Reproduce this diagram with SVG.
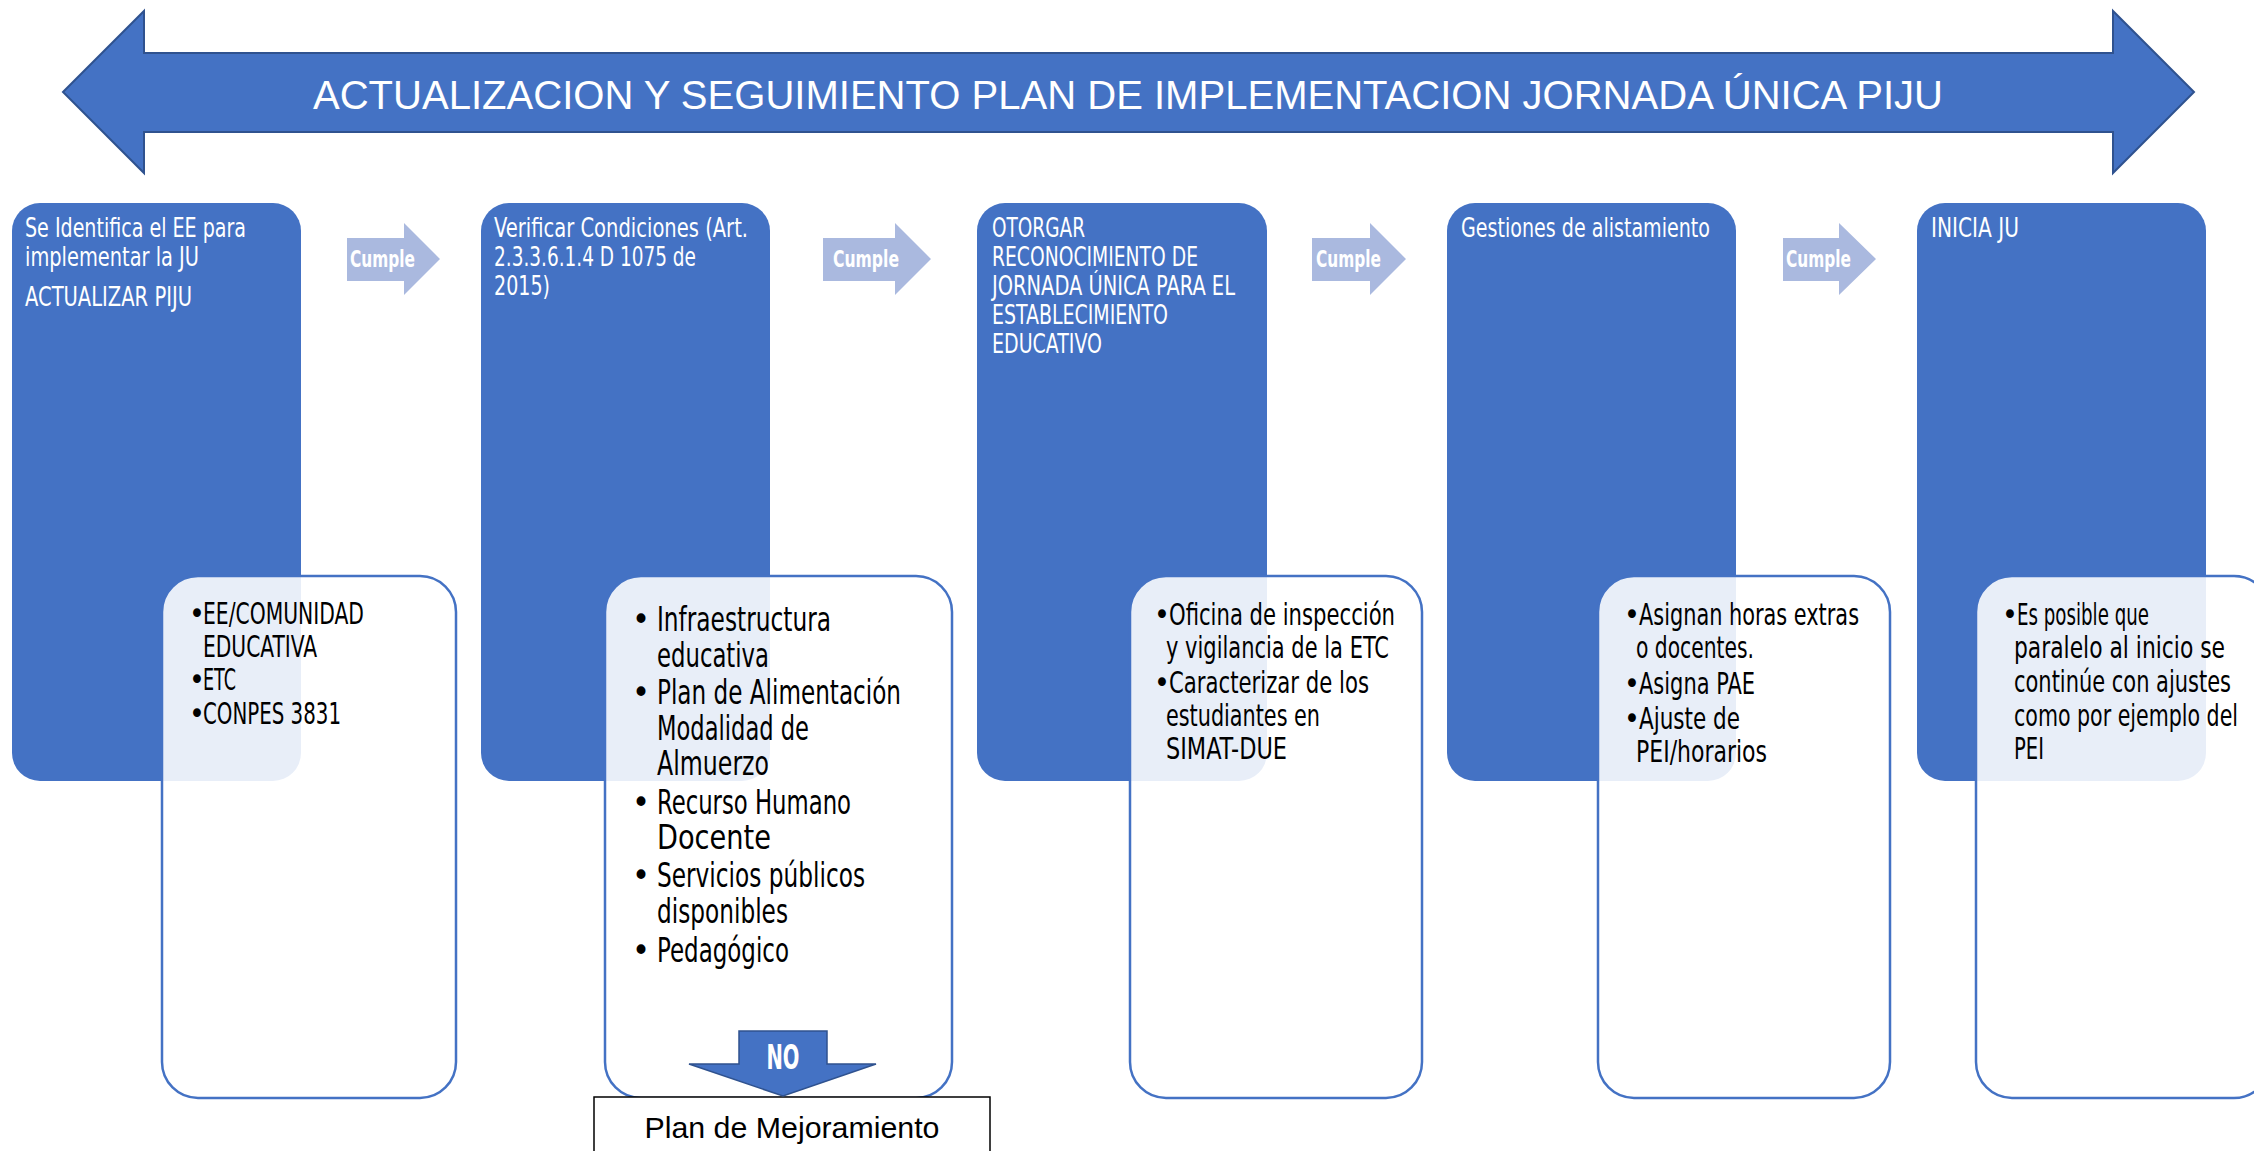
<svg xmlns="http://www.w3.org/2000/svg" width="2254" height="1151" viewBox="0 0 2254 1151">
<style>
.card{fill:#4472C4;}
.box{fill:#ffffff;fill-opacity:0.88;stroke:#4472C4;stroke-width:2.5;}
.ct{font-family:'Liberation Sans Narrow','DejaVu Sans Condensed',sans-serif;font-size:26px;fill:#ffffff;}
.bt{font-family:'Liberation Sans Narrow','DejaVu Sans Condensed',sans-serif;font-size:30px;fill:#000000;}
.bt2{font-family:'Liberation Sans Narrow','DejaVu Sans Condensed',sans-serif;font-size:34px;fill:#000000;}
.cum{fill:#AAB9DF;}
.cumt{font-family:'Liberation Sans Narrow','DejaVu Sans Condensed',sans-serif;font-size:23px;font-weight:bold;fill:#ffffff;}
</style>
<rect width="2254" height="1151" fill="#ffffff"/>

<g id="title-arrow">
<path d="M63,92 L144,11 L144,53 L2113,53 L2113,11 L2194,92 L2113,173 L2113,132 L144,132 L144,173 Z" fill="#4472C4" stroke="#2F528F" stroke-width="2"/>
<text x="1128" y="109" text-anchor="middle" font-family="'Liberation Sans',Arial,sans-serif" font-size="41" fill="#ffffff" textLength="1630" lengthAdjust="spacingAndGlyphs">ACTUALIZACION Y SEGUIMIENTO PLAN DE IMPLEMENTACION JORNADA ÚNICA PIJU</text>
</g>

<g id="card1">
<rect class="card" x="12" y="203" width="289" height="578" rx="28"/>
<text class="ct" x="25" y="237" textLength="221" lengthAdjust="spacingAndGlyphs">Se Identifica el EE para</text>
<text class="ct" x="25" y="266" textLength="174" lengthAdjust="spacingAndGlyphs">implementar la JU</text>
<text class="ct" x="25" y="306" textLength="167" lengthAdjust="spacingAndGlyphs">ACTUALIZAR PIJU</text>
</g>
<g id="card2">
<rect class="card" x="481" y="203" width="289" height="578" rx="28"/>
<text class="ct" x="494" y="237" textLength="254" lengthAdjust="spacingAndGlyphs">Verificar Condiciones (Art.</text>
<text class="ct" x="494" y="266" textLength="202" lengthAdjust="spacingAndGlyphs">2.3.3.6.1.4 D 1075 de</text>
<text class="ct" x="494" y="295" textLength="56" lengthAdjust="spacingAndGlyphs">2015)</text>
</g>
<g id="card3">
<rect class="card" x="977" y="203" width="290" height="578" rx="28"/>
<text class="ct" x="992" y="237" textLength="93" lengthAdjust="spacingAndGlyphs">OTORGAR</text>
<text class="ct" x="992" y="266" textLength="206" lengthAdjust="spacingAndGlyphs">RECONOCIMIENTO DE</text>
<text class="ct" x="992" y="295" textLength="243" lengthAdjust="spacingAndGlyphs">JORNADA ÚNICA PARA EL</text>
<text class="ct" x="992" y="324" textLength="176" lengthAdjust="spacingAndGlyphs">ESTABLECIMIENTO</text>
<text class="ct" x="992" y="353" textLength="110" lengthAdjust="spacingAndGlyphs">EDUCATIVO</text>
</g>
<g id="card4">
<rect class="card" x="1447" y="203" width="289" height="578" rx="28"/>
<text class="ct" x="1461" y="237" textLength="249" lengthAdjust="spacingAndGlyphs">Gestiones de alistamiento</text>
</g>
<g id="card5">
<rect class="card" x="1917" y="203" width="289" height="578" rx="28"/>
<text class="ct" x="1931" y="237" textLength="88" lengthAdjust="spacingAndGlyphs">INICIA JU</text>
</g>

<g id="box1">
<rect class="box" x="162" y="576" width="294" height="522" rx="36"/>
<text class="bt" x="189" y="624">•</text><text class="bt" x="203" y="624" textLength="161" lengthAdjust="spacingAndGlyphs">EE/COMUNIDAD</text>
<text class="bt" x="203" y="657" textLength="114" lengthAdjust="spacingAndGlyphs">EDUCATIVA</text>
<text class="bt" x="189" y="690">•</text><text class="bt" x="203" y="690" textLength="33" lengthAdjust="spacingAndGlyphs">ETC</text>
<text class="bt" x="189" y="724">•</text><text class="bt" x="203" y="724" textLength="138" lengthAdjust="spacingAndGlyphs">CONPES 3831</text>
</g>
<g id="box2">
<rect class="box" x="605" y="576" width="347" height="522" rx="36"/>
<text class="bt2" x="632" y="631">•</text><text class="bt2" x="657" y="631" textLength="174" lengthAdjust="spacingAndGlyphs">Infraestructura</text>
<text class="bt2" x="657" y="667" textLength="112" lengthAdjust="spacingAndGlyphs">educativa</text>
<text class="bt2" x="632" y="704">•</text><text class="bt2" x="657" y="704" textLength="244" lengthAdjust="spacingAndGlyphs">Plan de Alimentación</text>
<text class="bt2" x="657" y="740" textLength="152" lengthAdjust="spacingAndGlyphs">Modalidad de</text>
<text class="bt2" x="657" y="775" textLength="112" lengthAdjust="spacingAndGlyphs">Almuerzo</text>
<text class="bt2" x="632" y="814">•</text><text class="bt2" x="657" y="814" textLength="194" lengthAdjust="spacingAndGlyphs">Recurso Humano</text>
<text class="bt2" x="657" y="849" textLength="114" lengthAdjust="spacingAndGlyphs">Docente</text>
<text class="bt2" x="632" y="887">•</text><text class="bt2" x="657" y="887" textLength="208" lengthAdjust="spacingAndGlyphs">Servicios públicos</text>
<text class="bt2" x="657" y="923" textLength="131" lengthAdjust="spacingAndGlyphs">disponibles</text>
<text class="bt2" x="632" y="962">•</text><text class="bt2" x="657" y="962" textLength="132" lengthAdjust="spacingAndGlyphs">Pedagógico</text>
</g>
<g id="box3">
<rect class="box" x="1130" y="576" width="292" height="522" rx="36"/>
<text class="bt" x="1154" y="625">•</text><text class="bt" x="1169" y="625" textLength="226" lengthAdjust="spacingAndGlyphs">Oficina de inspección</text>
<text class="bt" x="1166" y="658" textLength="223" lengthAdjust="spacingAndGlyphs">y vigilancia de la ETC</text>
<text class="bt" x="1154" y="693">•</text><text class="bt" x="1169" y="693" textLength="200" lengthAdjust="spacingAndGlyphs">Caracterizar de los</text>
<text class="bt" x="1166" y="726" textLength="154" lengthAdjust="spacingAndGlyphs">estudiantes en</text>
<text class="bt" x="1166" y="759" textLength="121" lengthAdjust="spacingAndGlyphs">SIMAT-DUE</text>
</g>
<g id="box4">
<rect class="box" x="1598" y="576" width="292" height="522" rx="36"/>
<text class="bt" x="1624" y="625">•</text><text class="bt" x="1639" y="625" textLength="220" lengthAdjust="spacingAndGlyphs">Asignan horas extras</text>
<text class="bt" x="1636" y="658" textLength="118" lengthAdjust="spacingAndGlyphs">o docentes.</text>
<text class="bt" x="1624" y="694">•</text><text class="bt" x="1639" y="694" textLength="116" lengthAdjust="spacingAndGlyphs">Asigna PAE</text>
<text class="bt" x="1624" y="729">•</text><text class="bt" x="1639" y="729" textLength="101" lengthAdjust="spacingAndGlyphs">Ajuste de</text>
<text class="bt" x="1636" y="762" textLength="131" lengthAdjust="spacingAndGlyphs">PEI/horarios</text>
</g>
<g id="box5">
<rect class="box" x="1976" y="576" width="294" height="522" rx="36"/>
<text class="bt" x="2002" y="625">•</text><text class="bt" x="2017" y="625" textLength="132" lengthAdjust="spacingAndGlyphs">Es posible que</text>
<text class="bt" x="2014" y="658" textLength="211" lengthAdjust="spacingAndGlyphs">paralelo al inicio se</text>
<text class="bt" x="2014" y="692" textLength="217" lengthAdjust="spacingAndGlyphs">continúe con ajustes</text>
<text class="bt" x="2014" y="726" textLength="224" lengthAdjust="spacingAndGlyphs">como por ejemplo del</text>
<text class="bt" x="2014" y="759" textLength="30" lengthAdjust="spacingAndGlyphs">PEI</text>
</g>

<g id="plan-mejoramiento">
<rect x="594" y="1097" width="396" height="70" fill="#ffffff" stroke="#000000" stroke-width="1.5"/>
<text x="792" y="1138" text-anchor="middle" font-family="'Liberation Sans',Arial,sans-serif" font-size="29" fill="#000000" textLength="295" lengthAdjust="spacingAndGlyphs">Plan de Mejoramiento</text>
</g>

<g id="connectors">
<g id="cumple1">
<path class="cum" d="M347,238 L404,238 L404,223 L440,259 L404,295 L404,281 L347,281 Z"/>
<text class="cumt" x="350" y="267" textLength="65" lengthAdjust="spacingAndGlyphs">Cumple</text>
</g>
<g id="cumple2">
<path class="cum" d="M823,238 L895,238 L895,223 L931,259 L895,295 L895,281 L823,281 Z"/>
<text class="cumt" x="833" y="267" textLength="66" lengthAdjust="spacingAndGlyphs">Cumple</text>
</g>
<g id="cumple3">
<path class="cum" d="M1312,238 L1370,238 L1370,223 L1406,259 L1370,295 L1370,281 L1312,281 Z"/>
<text class="cumt" x="1316" y="267" textLength="65" lengthAdjust="spacingAndGlyphs">Cumple</text>
</g>
<g id="cumple4">
<path class="cum" d="M1783,238 L1839,238 L1839,223 L1876,259 L1839,295 L1839,281 L1783,281 Z"/>
<text class="cumt" x="1786" y="267" textLength="65" lengthAdjust="spacingAndGlyphs">Cumple</text>
</g>
<g id="no-arrow">
<path d="M739,1031 L827,1031 L827,1064 L876,1064 L783,1096 L689,1064 L739,1064 Z" fill="#4472C4" stroke="#2F528F" stroke-width="1.5"/>
<text x="783" y="1069" text-anchor="middle" font-family="'Liberation Sans Narrow','DejaVu Sans Condensed',sans-serif" font-size="33" font-weight="bold" fill="#ffffff" textLength="33" lengthAdjust="spacingAndGlyphs">NO</text>
</g>
</g>
</svg>
